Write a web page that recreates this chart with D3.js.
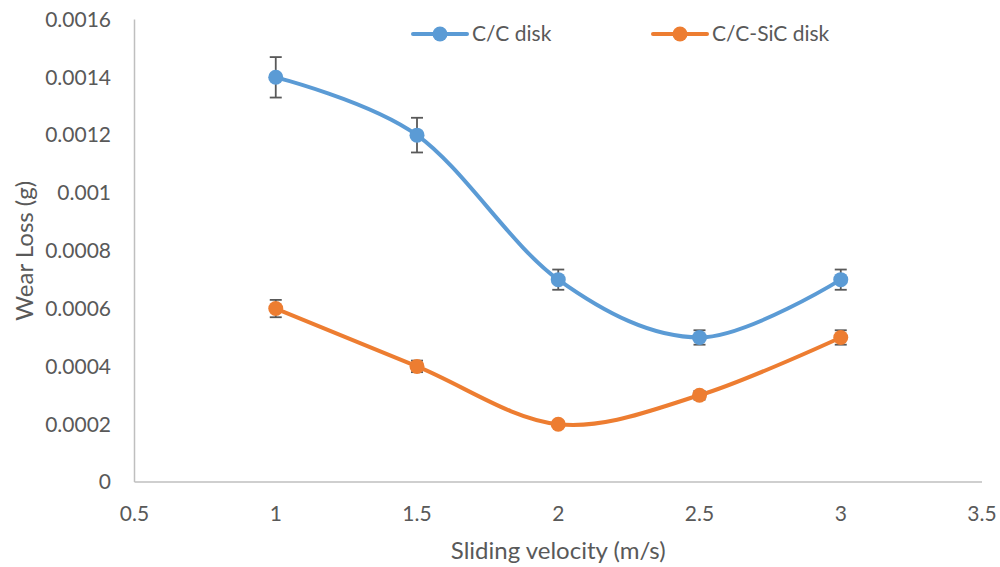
<!DOCTYPE html>
<html><head><meta charset="utf-8">
<script src="https://cdn.jsdelivr.net/npm/d3@7"></script>
<style>body{margin:0;background:#fff}svg{display:block}text{font-family:Lato,"Open Sans",sans-serif;fill:#595959}</style>
</head><body><svg id="c" width="1000" height="567"></svg>
<script>
const velocity = [1, 1.5, 2, 2.5, 3];
const ccDisk = [0.0014, 0.0012, 0.0007, 0.0005, 0.0007];
const ccDiskErr = [0.00007, 0.00006, 0.000035, 0.000025, 0.000035];
const ccSicDisk = [0.0006, 0.0004, 0.0002, 0.0003, 0.0005];
const ccSicDiskErr = [0.00003, 0.00002, 0.00001, 0.000015, 0.000025];
const xTicks = [0.5, 1, 1.5, 2, 2.5, 3, 3.5];
const yTicks = [0, 0.0002, 0.0004, 0.0006, 0.0008, 0.001, 0.0012, 0.0014, 0.0016];
const seriesNames = ["C/C disk", "C/C-SiC disk"];
const colors = ["#5B9BD5", "#ED7D31"];

const svg = d3.select("#c");
const x = d3.scaleLinear().domain([0.5, 3.5]).range([134.5, 982]);
const y = d3.scaleLinear().domain([0, 0.0016]).range([482, 19.5]);

// axes lines
svg.append("line").attr("x1", x(0.5)).attr("x2", x(0.5)).attr("y1", y(0.0016)).attr("y2", y(0))
  .attr("stroke", "#BFBFBF").attr("stroke-width", 1.5);
svg.append("line").attr("x1", x(0.5)).attr("x2", x(3.5)).attr("y1", y(0)).attr("y2", y(0))
  .attr("stroke", "#BFBFBF").attr("stroke-width", 1.5);

const fmt = v => v === 0 ? "0" : String(+v.toFixed(4));
svg.append("g").selectAll("text").data(yTicks).join("text")
  .attr("x", 111).attr("y", d => y(d)).attr("dy", "0.35em").attr("text-anchor", "end")
  .attr("font-size", 21).text(fmt);
svg.append("g").selectAll("text").data(xTicks).join("text")
  .attr("x", d => x(d)).attr("y", 514).attr("dy", "0.35em").attr("text-anchor", "middle")
  .attr("font-size", 21).text(d => String(d));

svg.append("text").attr("x", x(2)).attr("y", 551).attr("dy", "0.35em").attr("text-anchor", "middle")
  .attr("font-size", 24).text("Sliding velocity (m/s)");
svg.append("text").attr("transform", "translate(25," + y(0.0008) + ") rotate(-90)").attr("dy", "0.35em")
  .attr("text-anchor", "middle").attr("font-size", 24).text("Wear Loss (g)");

const line = d3.line().x(d => x(d[0])).y(d => y(d[1])).curve(d3.curveCardinal.tension(0));
const all = [[ccDisk, ccDiskErr], [ccSicDisk, ccSicDiskErr]];
all.forEach(([vals, errs], i) => {
  const pts = velocity.map((v, j) => [v, vals[j], errs[j]]);
  const g = svg.append("g");
  g.append("path").datum(pts).attr("d", line).attr("fill", "none")
    .attr("stroke", colors[i]).attr("stroke-width", 4).attr("stroke-linecap", "round");
  const eb = g.append("g").selectAll("g").data(pts).join("g");
  eb.append("line").attr("x1", d => x(d[0])).attr("x2", d => x(d[0]))
    .attr("y1", d => y(d[1] + d[2])).attr("y2", d => y(d[1] - d[2]))
    .attr("stroke", "#595959").attr("stroke-width", 1.8);
  [1, -1].forEach(s => {
    eb.append("line").attr("x1", d => x(d[0]) - 6).attr("x2", d => x(d[0]) + 6)
      .attr("y1", d => y(d[1] + s * d[2])).attr("y2", d => y(d[1] + s * d[2]))
      .attr("stroke", "#595959").attr("stroke-width", 1.8);
  });
  g.append("g").selectAll("circle").data(pts).join("circle")
    .attr("cx", d => x(d[0])).attr("cy", d => y(d[1])).attr("r", 7.5).attr("fill", colors[i]);
});

// legend
const legX = [413, 653];
seriesNames.forEach((name, i) => {
  const lg = svg.append("g").attr("transform", "translate(" + legX[i] + ",34)");
  lg.append("line").attr("x1", 0).attr("x2", 54).attr("stroke", colors[i]).attr("stroke-width", 4).attr("stroke-linecap", "round");
  lg.append("circle").attr("cx", 27).attr("r", 7.5).attr("fill", colors[i]);
  lg.append("text").attr("x", 59).attr("dy", "0.35em").attr("font-size", 21).text(name);
});
</script></body></html>
